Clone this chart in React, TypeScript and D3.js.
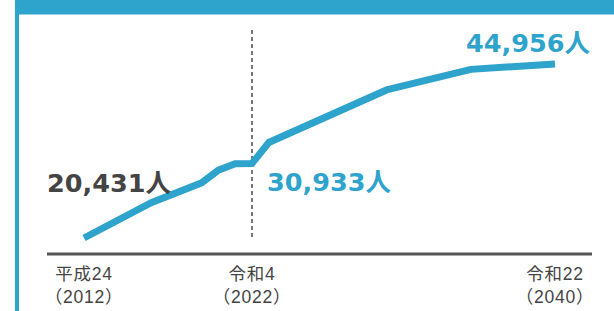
import React from 'react';
import * as d3 from 'd3';

// population trend (人)
const years = [2012, 2016, 2019, 2020, 2021, 2022, 2023, 2030, 2035, 2040];
const values = [20431, 25400, 28200, 30000, 30900, 30933, 33900, 41300, 44200, 44956];

const tickYears = [2012, 2022, 2040];
const tickEra = ['平成24', '令和4', '令和22'];
const tickWestern = ['（2012）', '（2022）', '（2040）'];

const callouts = [
  { idx: 0, text: '20,431人', color: '#444444' },
  { idx: 5, text: '30,933人', color: '#2ea3cc' },
  { idx: 9, text: '44,956人', color: '#2ea3cc' },
];

const W = 614;
const H = 311;
const BLUE = '#2ea3cc';
const NUM_FONT = '"DejaVu Sans", "Noto Sans CJK JP", sans-serif';
const TICK_FONT = '"Liberation Sans", "Noto Sans CJK JP", sans-serif';

const App: React.FC = () => {
  const x = d3.scaleLinear().domain([2012, 2022, 2040]).range([84, 252, 555]);
  const y = d3.scaleLinear().domain([20431, 44956]).range([238, 64]);

  const line = d3.line<number>()
    .x((_, i) => x(years[i]))
    .y(d => y(d));

  // where each callout sits relative to its point
  const calloutPos = [
    { dx: -37, dy: -46 },
    { dx: 15, dy: 28 },
    { dx: -89, dy: -12 },
  ];

  const axisY = 254;

  return (
    <div style={{ position: 'absolute', top: 0, left: 0 }}>
      <svg width={W} height={H} style={{ display: 'block', background: '#fff' }}>
        {/* frame */}
        <rect x={15} y={0} width={W - 15} height={14.5} fill={BLUE} />
        <rect x={15} y={0} width={4} height={H} fill={BLUE} />

        {/* base axis */}
        <line x1={47} x2={592} y1={axisY} y2={axisY} stroke="#555" strokeWidth={3} />

        {/* present-day divider */}
        <line
          x1={x(2022)} x2={x(2022)} y1={30} y2={240}
          stroke="#555" strokeWidth={1.6} strokeDasharray="4,3"
        />

        <path
          d={line(values) || ''}
          fill="none"
          stroke={BLUE}
          strokeWidth={7}
          strokeLinejoin="miter"
        />

        {callouts.map((c, i) => (
          <text
            key={c.text}
            x={x(years[c.idx]) + calloutPos[i].dx}
            y={y(values[c.idx]) + calloutPos[i].dy}
            fill={c.color}
            fontFamily={NUM_FONT}
            fontWeight="bold"
            fontSize={25.5}
          >
            {c.text}
          </text>
        ))}

        {tickYears.map((yr, i) => (
          <g key={yr} transform={`translate(${x(yr)},0)`} fill="#444" fontFamily={TICK_FONT} fontSize={17.5} letterSpacing={0.8} textAnchor="middle">
            <text y={280}>{tickEra[i]}</text>
            <text y={303}>{tickWestern[i]}</text>
          </g>
        ))}
      </svg>
    </div>
  );
};

export default App;
